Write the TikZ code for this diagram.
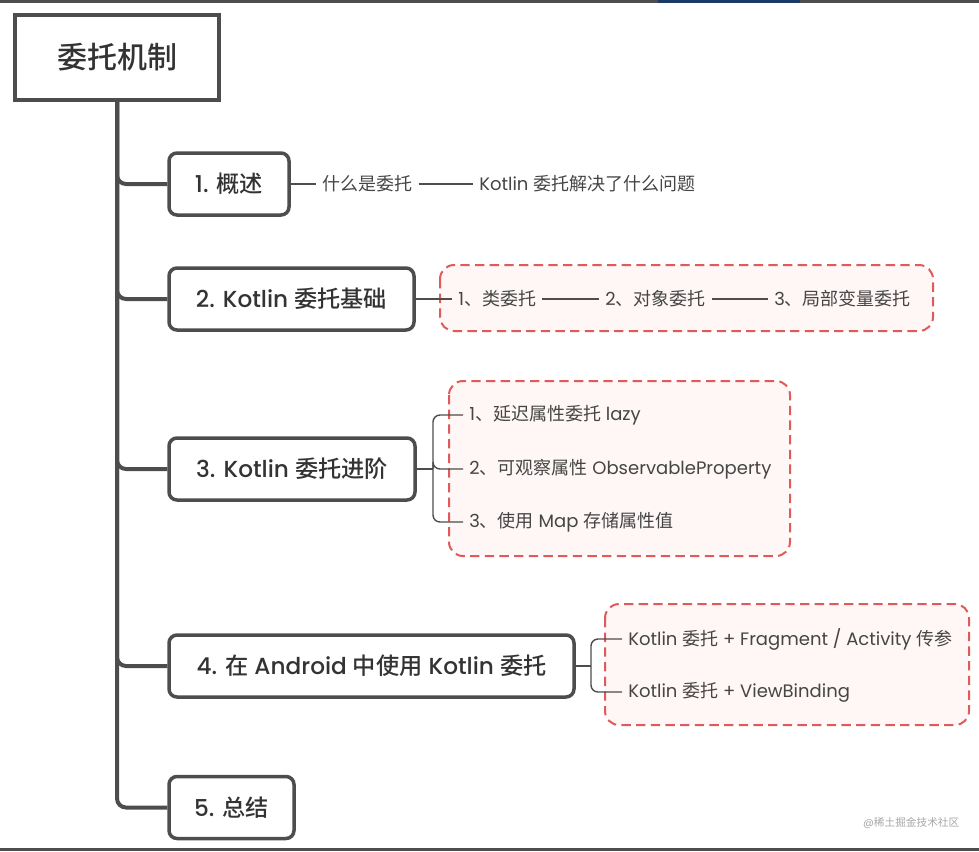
\documentclass[tikz,border=0pt]{standalone}
\usepackage{fontspec}
\setmainfont{Poppins}
\newfontfamily\latmed{Poppins Medium}
\newfontfamily\cjk{Noto Sans CJK SC}
\newfontfamily\cjkmed{Noto Sans CJK SC Medium}
\newcommand{\zh}[1]{{\cjk #1}}
\newcommand{\zhm}[1]{{\cjkmed #1}}
\usepackage{xcolor}

\begin{document}
\begin{tikzpicture}[x=0.75pt, y=-0.75pt]

    % 色の設定
    \definecolor{linegray}{HTML}{4D4D4D}
    \definecolor{textgray}{HTML}{333333}
    \definecolor{subgray}{HTML}{454545}
    \definecolor{dashred}{HTML}{E05A5A}
    \definecolor{pinkfill}{HTML}{FFF6F6}
    \definecolor{navy}{HTML}{1C3A66}
    \def\px{0.75pt}

    \tikzset{
        rootbox/.style={draw=linegray, line width=4*\px, fill=white, text=textgray,
            minimum width=204*\px, minimum height=85*\px, font=\fontsize{22.5}{26}\selectfont\latmed},
        topicbox/.style={draw=linegray, line width=3.5*\px, fill=white, text=textgray,
            rounded corners=8*\px, minimum height=62*\px, font=\fontsize{17.4}{20}\selectfont\latmed},
        subitem/.style={anchor=west, inner xsep=6*\px, inner ysep=2*\px, text=subgray,
            font=\fontsize{13.5}{16}\selectfont},
        trunk/.style={draw=linegray, line width=4*\px, rounded corners=9*\px},
        branch/.style={draw=linegray, line width=1.4*\px},
        groupbox/.style={draw=dashred, fill=pinkfill, line width=2*\px,
            dash pattern=on 7pt off 4pt, rounded corners=14*\px}
    }

    % 画面の枠
    \useasboundingbox (0,0) rectangle (979,851);
    \fill[linegray] (0,0) rectangle (979,2.5);
    \fill[navy] (658,0) rectangle (800,2.5);
    \fill[linegray] (0,848) rectangle (979,851);

    % 赤い点線の枠
    \draw[groupbox] (440,265) rectangle (933,331);
    \draw[groupbox] (449,381) rectangle (790,556);
    \draw[groupbox] (605,604) rectangle (969,725);

    % 主題と各章
    \node[rootbox] (root) at (117,57.5) {\zhm{委托机制}};
    \node[topicbox, minimum width=120*\px] (overview) at (229,184) {1. \zhm{概述}};
    \node[topicbox, minimum width=245*\px] (basics) at (291.5,299) {2. Kotlin \zhm{委托基础}};
    \node[topicbox, minimum width=246*\px] (advanced) at (292,469) {3. Kotlin \zhm{委托进阶}};
    \node[topicbox, minimum width=405*\px] (android) at (371.5,666) {4. \zhm{在} Android \zhm{中使用} Kotlin \zhm{委托}};
    \node[topicbox, minimum width=125*\px] (summary) at (231.5,807.5) {5. \zhm{总结}};

    % 幹の線
    \foreach \t in {overview,basics,advanced,android,summary}
        \draw[trunk] (root.south) |- (\t.west);

    % 1. 概述
    \node[subitem] (whatis) at (316,184) {\zh{什么是委托}};
    \node[subitem] (solves) at (473,184) {Kotlin \zh{委托解决了什么问题}};
    \draw[branch] (overview.east) -- (whatis.west);
    \draw[branch] (whatis.east) -- (solves.west);

    % 2. 基础
    \node[subitem] (classdel) at (452,299) {1\zh{、类委托}};
    \node[subitem] (objdel) at (599,299) {2\zh{、对象委托}};
    \node[subitem] (localdel) at (768,299) {3\zh{、局部变量委托}};
    \draw[branch] (basics.east) -- (classdel.west);
    \draw[branch] (classdel.east) -- (objdel.west);
    \draw[branch] (objdel.east) -- (localdel.west);

    % 3. 进阶
    \node[subitem] (lazyitem) at (463,415) {1\zh{、延迟属性委托} lazy};
    \node[subitem] (obsitem) at (463,469) {2\zh{、可观察属性} ObservableProperty};
    \node[subitem] (mapitem) at (463,522) {3\zh{、使用} Map \zh{存储属性值}};
    \coordinate (advjoin) at (433,469);
    \draw[branch] (advanced.east) -- (advjoin);
    \foreach \s in {lazyitem,obsitem,mapitem}
        \draw[branch, rounded corners=7*\px] (advjoin) |- (\s.west);

    % 4. Android
    \node[subitem] (fragitem) at (622,639) {Kotlin \zh{委托} + Fragment / Activity \zh{传参}};
    \node[subitem] (vbitem) at (622,692) {Kotlin \zh{委托} + ViewBinding};
    \coordinate (andjoin) at (591,666);
    \draw[branch] (android.east) -- (andjoin);
    \foreach \s in {fragitem,vbitem}
        \draw[branch, rounded corners=7*\px] (andjoin) |- (\s.west);

    % 透かし
    \node[text=gray!70, font=\fontsize{8}{10}\selectfont, anchor=east] (mark) at (964,823) {@\zh{稀土掘金技术社区}};

\end{tikzpicture}
\end{document}
